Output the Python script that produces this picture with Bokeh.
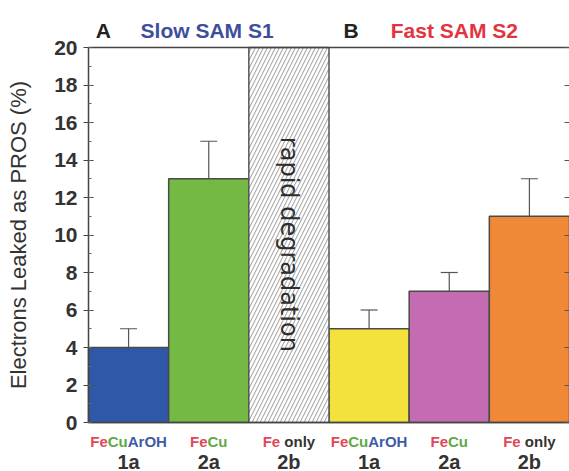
from bokeh.plotting import figure
from bokeh.models import (Range1d, FixedTicker, LinearAxis, Label, Whisker, TeeHead,
                          ColumnDataSource)
from bokeh.core.properties import value
from bokeh.embed import file_html
from bokeh.resources import INLINE
import math

# ---- data ----
tick_labels = ["1a", "2a", "2b", "1a", "2a", "2b"]
positions = [0.5, 1.5, 2.5, 3.5, 4.5, 5.5]
values = [4, 13, None, 5, 7, 11]
err_low = [3, 11, None, 4, 6, 9]
err_high = [5, 15, None, 6, 8, 13]
bar_colors = ["#2F58A9", "#74B944", None, "#F4E23C", "#C46CB2", "#EF8937"]
degraded_index = 2
degraded_text = "rapid degradation"
y_max = 20
y_ticks = list(range(0, 21, 2))
y_minor = list(range(0, 21))
compound_parts = [
    [("Fe", "#E0485A"), ("Cu", "#5DAA45"), ("ArOH", "#3E5BA6")],
    [("Fe", "#E0485A"), ("Cu", "#5DAA45")],
    [("Fe", "#E0485A"), ("only", "#333333")],
    [("Fe", "#E0485A"), ("Cu", "#5DAA45"), ("ArOH", "#3E5BA6")],
    [("Fe", "#E0485A"), ("Cu", "#5DAA45")],
    [("Fe", "#E0485A"), ("only", "#333333")],
]
panel_titles = [(0.09, "A", "#222222"), (0.65, "Slow SAM S1", "#3D4F9C"),
                (3.18, "B", "#222222"), (3.77, "Fast SAM S2", "#E3343F")]

FONT = "Liberation Sans"
W, H = 569, 471
LEFT, TOP, BOTTOM = 88, 47, 49          # pixel margins of the bar area inside the canvas
n = len(positions)
px_x = (W - LEFT) / n
px_y = (H - TOP - BOTTOM) / y_max

p = figure(width=W, height=H, output_backend="svg", toolbar_location=None,
           x_range=Range1d(-LEFT / px_x, n), y_range=Range1d(-BOTTOM / px_y, y_max + TOP / px_y),
           min_border=0, min_border_left=0, min_border_right=0, min_border_top=0,
           min_border_bottom=0)
p.grid.visible = False
p.outline_line_color = None
p.background_fill_color = "white"
p.border_fill_color = "white"

xa = p.below[0]
ya = p.left[0]

# bars
idx = [i for i, v in enumerate(values) if v is not None]
src = ColumnDataSource(dict(x=[positions[i] for i in idx], top=[values[i] for i in idx],
                            color=[bar_colors[i] for i in idx],
                            lo=[err_low[i] for i in idx], hi=[err_high[i] for i in idx]))
p.vbar(x="x", top="top", width=1.0, bottom=0, source=src, fill_color="color",
       line_color="#4A4A4A", line_width=1.5)

# degraded (hatched) bar
p.vbar(x=[positions[degraded_index]], top=[y_max], width=1.0, bottom=0,
       fill_color="white", line_color="#555555", line_width=1.5,
       hatch_pattern="/", hatch_color="#ABABAB", hatch_scale=8, hatch_weight=1.1)
p.text(x=[positions[degraded_index]], y=[y_max * 0.475], text=[degraded_text],
       angle=-math.pi / 2, text_align="center", text_baseline="middle",
       text_font=value("DejaVu Sans"), text_font_size="24px", text_color="#2E2E2E")

# error bars
head = dict(size=17, line_color="#555555", line_width=1.2)
p.add_layout(Whisker(source=src, base="x", upper="hi", lower="lo", line_color="#555555",
                     line_width=1.2, upper_head=TeeHead(**head), lower_head=TeeHead(**head)))

# y axis (left)
ya.fixed_location = 0
ya.bounds = (0, y_max)
ya.ticker = FixedTicker(ticks=y_ticks, minor_ticks=y_minor)
ya.axis_label = "Electrons Leaked as PROS (%)"
ya.axis_label_text_font = FONT
ya.axis_label_text_font_style = "normal"
ya.axis_label_text_font_size = "22px"
ya.axis_label_text_color = "#333333"
ya.axis_label_standoff = 20
ya.major_label_text_font = FONT
ya.major_label_text_font_style = "bold"
ya.major_label_text_font_size = "21px"
ya.major_label_text_color = "#333333"
ya.major_label_standoff = 6
ya.major_tick_out = 5
ya.major_tick_in = 5
ya.minor_tick_in = 3
ya.minor_tick_out = 0
ya.axis_line_color = "#444444"
ya.axis_line_width = 1.5
ya.major_tick_line_color = "#444444"
ya.minor_tick_line_color = "#666666"

# x axis (below)
xa.fixed_location = 0
xa.bounds = (0, n)
xa.ticker = FixedTicker(ticks=positions, minor_ticks=[])
xa.major_label_overrides = {pos: lab for pos, lab in zip(positions, tick_labels)}
xa.major_label_text_font = FONT
xa.major_label_text_font_style = "bold"
xa.major_label_text_font_size = "20px"
xa.major_label_text_color = "#333333"
xa.major_label_standoff = 28
xa.major_tick_in = 0
xa.major_tick_out = 0
xa.major_tick_line_color = None
xa.minor_tick_line_color = None
xa.axis_line_color = "#444444"
xa.axis_line_width = 1.5

# right side: inward ticks only
ra = LinearAxis(fixed_location=n, bounds=(0, y_max),
                ticker=FixedTicker(ticks=[], minor_ticks=y_ticks),
                minor_tick_in=5, minor_tick_out=0, axis_line_color=None,
                major_tick_line_color=None,
                minor_tick_line_color="#555555", minor_tick_line_width=1.2)
p.add_layout(ra, "right")

# top border
ta = LinearAxis(fixed_location=y_max, bounds=(0, n), ticker=FixedTicker(ticks=[], minor_ticks=[]),
                axis_line_color="#444444", axis_line_width=1.5,
                major_tick_line_color=None, minor_tick_line_color=None)
p.add_layout(ta, "above")

# compound labels (multi-coloured)
em = {"F": .611, "e": .556, "C": .722, "u": .611, "A": .722, "r": .389, "O": .778,
      "H": .722, "o": .611, "n": .611, "l": .278, "y": .556}
fs = 15
for pos, parts in zip(positions, compound_parts):
    widths = [sum(em[c] for c in t) * fs for t, _ in parts]
    gap = 0.278 * fs if parts[-1][0] == "only" else 0
    total = sum(widths) + gap
    off = -total / 2
    for (t, col), wd in zip(parts, widths):
        if t == "only":
            off += gap
        p.add_layout(Label(x=pos, y=-19 / px_y, x_offset=off, text=t, text_font=FONT,
                           text_font_style="bold", text_font_size=f"{fs}px",
                           text_color=col, text_align="left", text_baseline="middle"))
        off += wd

# panel titles
for x, t, c in panel_titles:
    p.add_layout(Label(x=x, y=y_max + 17 / px_y, text=t, text_font=FONT,
                       text_font_style="bold", text_font_size="21px", text_color=c,
                       text_align="left", text_baseline="middle"))

open("out.html", "w").write(file_html(p, INLINE))
